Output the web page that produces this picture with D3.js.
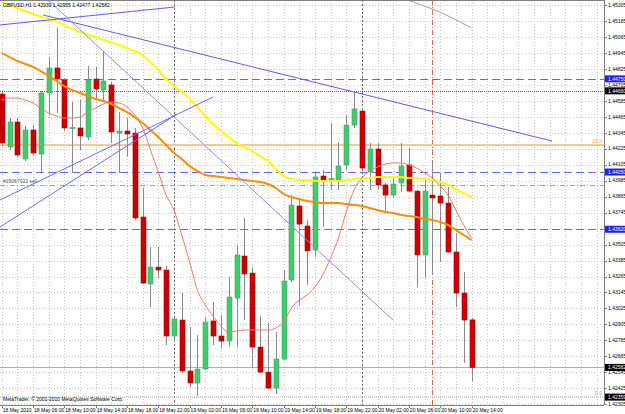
<!DOCTYPE html>
<html>
<head>
<meta charset="utf-8">
<script src="https://cdn.jsdelivr.net/npm/d3@7"></script>
<style>
  body { margin: 0; background: #fff; }
  svg { display: block; }
  text { font-family: "Liberation Sans", Arial, sans-serif; }
</style>
</head>
<body>
<div id="chart"></div>
<script>
// GBPUSD H1, bar 0 = 18 May 2010 02:00
const opens = [1.44636,1.44238,1.44426,1.44148,1.44366,1.44186,1.44644,1.44832,1.44741,1.44381,
  1.44381,1.44313,1.44749,1.44666,1.44704,1.44343,1.44358,1.44343,1.43712,1.43209,
  1.43336,1.43314,1.42818,1.42938,1.42555,1.42465,1.42570,1.42931,1.42818,1.42780,
  1.43103,1.43419,1.43291,1.42735,1.42547,1.42427,1.42645,1.43239,1.43795,1.43644,
  1.43464,1.44020,1.43998,1.43990,1.44103,1.44403,1.44508,1.44050,1.44223,1.43953,
  1.43877,1.43968,1.44103,1.43907,1.43427,1.43877,1.43870,1.43817,1.43449,1.43141,
  1.42939];
const highs = [1.44651,1.44456,1.44456,1.44396,1.44403,1.44659,1.44914,1.45132,1.44757,1.44576,
  1.44591,1.44847,1.44839,1.44952,1.44726,1.44501,1.44456,1.44381,1.43930,1.43487,
  1.43487,1.43344,1.42953,1.43141,1.42886,1.42825,1.42961,1.43073,1.42976,1.43261,
  1.43502,1.43705,1.43329,1.42968,1.42916,1.42848,1.43314,1.43877,1.43855,1.43689,
  1.44043,1.44065,1.44418,1.44276,1.44478,1.44651,1.44531,1.44268,1.44268,1.43968,
  1.44013,1.44268,1.44231,1.43915,1.43990,1.44125,1.44043,1.43938,1.43592,1.43299,
  1.42955];
const lows = [1.44246,1.44216,1.44163,1.44133,1.44178,1.44050,1.44478,1.44493,1.44358,1.44043,
  1.44216,1.44291,1.44591,1.44591,1.44268,1.44043,1.44163,1.43689,1.43209,1.43036,
  1.43254,1.42750,1.42773,1.42540,1.42435,1.42367,1.42562,1.42750,1.42728,1.42735,
  1.42735,1.42938,1.42577,1.42540,1.42420,1.42382,1.42638,1.43224,1.43051,1.43201,
  1.43412,1.43637,1.43915,1.43915,1.44065,1.44381,1.44058,1.43915,1.43915,1.43742,
  1.43862,1.43900,1.43900,1.43186,1.43254,1.43276,1.43374,1.43442,1.43036,1.42615,
  1.42477];
const closes = [1.44268,1.44426,1.44178,1.44366,1.44193,1.44644,1.44832,1.44749,1.44381,1.44384,
  1.44321,1.44741,1.44674,1.44734,1.44351,1.44358,1.44336,1.43705,1.43216,1.43336,
  1.43314,1.42818,1.42946,1.42555,1.42465,1.42570,1.42923,1.42818,1.42780,1.43111,
  1.43427,1.43284,1.42735,1.42547,1.42427,1.42645,1.43231,1.43802,1.43659,1.43457,
  1.44013,1.43983,1.44001,1.44095,1.44403,1.44524,1.44080,1.44223,1.43953,1.43877,
  1.43960,1.44095,1.43907,1.43427,1.43907,1.43855,1.43817,1.43449,1.43141,1.42938,
  1.42582];

// moving averages (one value per bar)
const maFast = [1.44591,1.44606,1.44606,1.44591,1.44569,1.44531,1.44493,1.44471,1.44456,1.44456,
  1.44463,1.44501,1.44531,1.44561,1.44576,1.44569,1.44539,1.44478,1.44381,1.44216,
  1.44050,1.43877,1.43765,1.43577,1.43374,1.43163,1.43051,1.42968,1.42893,1.42848,
  1.42855,1.42863,1.42863,1.42863,1.42863,1.42878,1.42923,1.43028,1.43088,1.43126,
  1.43186,1.43276,1.43404,1.43554,1.43750,1.43915,1.44005,1.44058,1.44088,1.44110,
  1.44118,1.44118,1.44103,1.44080,1.44043,1.44005,1.43945,1.43877,1.43765,1.43652,
  1.43554];
const maMid = [1.44944,1.44914,1.44884,1.44862,1.44839,1.44809,1.44772,1.44734,1.44696,1.44666,
  1.44644,1.44621,1.44599,1.44584,1.44561,1.44531,1.44501,1.44463,1.44418,1.44366,
  1.44313,1.44253,1.44193,1.44148,1.44095,1.44058,1.44028,1.44020,1.44013,1.44005,
  1.43998,1.43990,1.43983,1.43975,1.43960,1.43930,1.43885,1.43862,1.43847,1.43832,
  1.43825,1.43817,1.43817,1.43817,1.43810,1.43802,1.43795,1.43780,1.43765,1.43750,
  1.43742,1.43727,1.43720,1.43712,1.43697,1.43689,1.43674,1.43652,1.43614,1.43577,
  1.43539];
const maSlow = [1.45324,1.45305,1.45282,1.45260,1.45237,1.45219,1.45200,1.45181,1.45155,1.45125,
  1.45102,1.45083,1.45065,1.45042,1.45023,1.45004,1.44982,1.44959,1.44929,1.44877,
  1.44817,1.44749,1.44696,1.44651,1.44599,1.44539,1.44471,1.44411,1.44358,1.44313,
  1.44268,1.44238,1.44208,1.44170,1.44133,1.44073,1.44020,1.43998,1.43990,1.43990,
  1.43983,1.43983,1.43983,1.43983,1.43990,1.43998,1.44005,1.44005,1.44013,1.44013,
  1.44013,1.44013,1.44005,1.44005,1.43998,1.43990,1.43975,1.43953,1.43922,1.43892,
  1.43862];
const grayIdx = [51.8, 54.7, 57.3, 60];
const grayVals = [1.45343, 1.45282, 1.45215, 1.45132];

// trend lines: start / end as (bar index, price)
const lineStartIdx = [-0.22, 5.27, 5.91, -0.22, -0.22];
const lineStartPrice = [1.45155, 1.45230, 1.45343, 1.43840, 1.43637];
const lineEndIdx = [22.13, 70.28, 49.97, 27.0, 22.39];
const lineEndPrice = [1.45290, 1.44283, 1.42938, 1.44614, 1.44486];
const lineColors = ['#5a5aff', '#5a5aff', '#8c8cff', '#6a6aff', '#6a6aff'];

// horizontal levels
const blueLevels = [1.44750, 1.44050, 1.43620];
const dotLevel = 1.44660;
const fibLevels = [1.42359, 1.44253];
const fibLabels = ['0.0', '23.6'];
const orderLevel = 1.43953;
const orderLabel = '#15067022 sell';
const separatorIdx = [22, 46];
const vLineIdx = 55;

// price ticks on the right scale
const priceTicks = d3.range(0, 26).map(k => +(1.45305 - k * 0.0012).toFixed(5));

const width = 625, height = 414;
const plotRight = 604, plotBottom = 405;

const x = d3.scaleLinear().domain([0, 60]).range([1.7, 471.5]);
const y = d3.scaleLinear().domain([1.42305, 1.45305]).range([404.3, 5]);
const fmt = d => d.toFixed(5);

const svg = d3.select('#chart').append('svg')
  .attr('width', width).attr('height', height);

svg.append('defs').append('clipPath').attr('id', 'plot')
  .append('rect').attr('x', 0).attr('y', 0).attr('width', plotRight).attr('height', plotBottom);

const g = svg.append('g').attr('clip-path', 'url(#plot)');

// grid
const gridX = d3.range(0, 78, 2);
g.selectAll('.gx').data(gridX).enter().append('line')
  .attr('x1', d => Math.round(x(d)) + 0.5).attr('x2', d => Math.round(x(d)) + 0.5)
  .attr('y1', 0).attr('y2', plotBottom)
  .attr('stroke', '#c8c8c8').attr('stroke-dasharray', '1,2');
g.selectAll('.gy').data(priceTicks).enter().append('line')
  .attr('x1', 0).attr('x2', plotRight)
  .attr('y1', d => Math.round(y(d)) + 0.5).attr('y2', d => Math.round(y(d)) + 0.5)
  .attr('stroke', '#c8c8c8').attr('stroke-dasharray', '1,2');

// period separators
g.selectAll('.sep').data(separatorIdx).enter().append('line')
  .attr('x1', d => Math.round(x(d)) + 0.5).attr('x2', d => Math.round(x(d)) + 0.5)
  .attr('y1', 0).attr('y2', plotBottom)
  .attr('stroke', '#707070').attr('stroke-dasharray', '2,2');

// vertical dash-dot line
g.append('line')
  .attr('x1', Math.round(x(vLineIdx)) + 0.5).attr('x2', Math.round(x(vLineIdx)) + 0.5)
  .attr('y1', 0).attr('y2', plotBottom)
  .attr('stroke', '#e8604c').attr('stroke-dasharray', '5,2,1,2');

// fibo levels
g.selectAll('.fib').data(fibLevels).enter().append('line')
  .attr('x1', 0).attr('x2', plotRight)
  .attr('y1', d => y(d)).attr('y2', d => y(d))
  .attr('stroke', (d, i) => i === 1 ? '#ffc88a' : '#a0a0a0')
  .attr('stroke-width', (d, i) => i === 1 ? 2 : 1)
  .attr('stroke-dasharray', (d, i) => i === 1 ? null : '1,1');
g.selectAll('.fibt').data(fibLevels).enter().append('text')
  .attr('x', plotRight - 2).attr('y', d => y(d) - 2)
  .attr('text-anchor', 'end').attr('font-size', 5)
  .attr('fill', (d, i) => i === 1 ? '#f0a860' : '#a0a0a0')
  .text((d, i) => fibLabels[i]);

// order line
g.append('line')
  .attr('x1', 0).attr('x2', plotRight)
  .attr('y1', Math.round(y(orderLevel)) + 0.5).attr('y2', Math.round(y(orderLevel)) + 0.5)
  .attr('stroke', '#f08a6c').attr('stroke-dasharray', '5,2,1,2');
g.append('text')
  .attr('x', 3).attr('y', y(orderLevel) - 2)
  .attr('font-size', 5).attr('fill', '#555')
  .text(orderLabel);

// blue dashed levels
g.selectAll('.bl').data(blueLevels).enter().append('line')
  .attr('x1', 0).attr('x2', plotRight)
  .attr('y1', d => Math.round(y(d)) + 0.5).attr('y2', d => Math.round(y(d)) + 0.5)
  .attr('stroke', '#6464ff').attr('stroke-dasharray', '8,4');

// dotted level
g.append('line')
  .attr('x1', 0).attr('x2', plotRight)
  .attr('y1', Math.round(y(dotLevel)) + 0.5).attr('y2', Math.round(y(dotLevel)) + 0.5)
  .attr('stroke', '#606060').attr('stroke-dasharray', '1,1');

// bid line
const last = closes.length - 1;
g.append('line')
  .attr('x1', 0).attr('x2', plotRight)
  .attr('y1', Math.round(y(closes[last])) + 0.5).attr('y2', Math.round(y(closes[last])) + 0.5)
  .attr('stroke', '#b0b0b0');

// candles
const idx = d3.range(opens.length);
g.selectAll('.wick').data(idx).enter().append('line')
  .attr('x1', i => Math.round(x(i)) + 0.5).attr('x2', i => Math.round(x(i)) + 0.5)
  .attr('y1', i => y(highs[i])).attr('y2', i => y(lows[i]))
  .attr('stroke', '#8a8a8a');
g.selectAll('.body').data(idx).enter().append('rect')
  .attr('x', i => Math.round(x(i)) - 2)
  .attr('y', i => y(Math.max(opens[i], closes[i])))
  .attr('width', 5)
  .attr('height', i => Math.max(1, Math.abs(y(opens[i]) - y(closes[i]))))
  .attr('fill', i => closes[i] >= opens[i] ? '#3dcc6e' : '#cc0000')
  .attr('stroke', i => closes[i] >= opens[i] ? '#5a9a6a' : '#a00000')
  .attr('stroke-width', 0.6);

// moving averages
const maLine = d3.line().x((d, i) => x(i)).y(d => y(d)).curve(d3.curveMonotoneX);
g.append('path').attr('d', maLine(maSlow)).attr('fill', 'none')
  .attr('stroke', '#ffff00').attr('stroke-width', 2);
g.append('path').attr('d', maLine(maMid)).attr('fill', 'none')
  .attr('stroke', '#ff8c00').attr('stroke-width', 2);
g.append('path').attr('d', maLine(maFast)).attr('fill', 'none')
  .attr('stroke', '#fa7464').attr('stroke-width', 1);
g.append('path')
  .attr('d', d3.line().x((d, i) => x(grayIdx[i])).y(d => y(d)).curve(d3.curveMonotoneX)(grayVals))
  .attr('fill', 'none').attr('stroke', '#a0a0a0');

// trend lines
g.selectAll('.trend').data(lineStartIdx).enter().append('line')
  .attr('x1', (d, i) => x(lineStartIdx[i])).attr('y1', (d, i) => y(lineStartPrice[i]))
  .attr('x2', (d, i) => x(lineEndIdx[i])).attr('y2', (d, i) => y(lineEndPrice[i]))
  .attr('stroke', (d, i) => lineColors[i]);

// header and copyright
g.append('text').attr('x', 3).attr('y', 7).attr('font-size', 5).attr('fill', '#000')
  .text(`GBPUSD,H1  ${fmt(opens[last])} ${fmt(highs[last])} ${fmt(lows[last])} ${fmt(closes[last])}`);
g.append('text').attr('x', 3).attr('y', 401).attr('font-size', 5).attr('fill', '#000')
  .text('MetaTrader, \u00a9 2001-2010 MetaQuotes Software Corp.');

// frame
svg.append('line').attr('x1', 0).attr('x2', plotRight).attr('y1', 0.5).attr('y2', 0.5).attr('stroke', '#808080');
svg.append('line').attr('x1', plotRight + 0.5).attr('x2', plotRight + 0.5).attr('y1', 0).attr('y2', plotBottom).attr('stroke', '#808080');
svg.append('line').attr('x1', 0).attr('x2', plotRight).attr('y1', plotBottom + 0.5).attr('y2', plotBottom + 0.5).attr('stroke', '#808080');

// price scale
const axisY = svg.append('g');
axisY.selectAll('line').data(priceTicks).enter().append('line')
  .attr('x1', plotRight).attr('x2', plotRight + 3)
  .attr('y1', d => Math.round(y(d)) + 0.5).attr('y2', d => Math.round(y(d)) + 0.5)
  .attr('stroke', '#808080');
axisY.selectAll('text').data(priceTicks).enter().append('text')
  .attr('x', plotRight + 4).attr('y', d => y(d)).attr('dy', '0.35em')
  .attr('font-size', 5).attr('fill', '#000').text(fmt);

// price boxes
const boxes = blueLevels.map(v => ({ v, fill: '#2020ff' }))
  .concat([dotLevel, closes[last], fibLevels[0]].map(v => ({ v, fill: '#000' })));
const box = svg.selectAll('.box').data(boxes).enter().append('g');
box.append('rect')
  .attr('x', plotRight + 1).attr('y', d => y(d.v) - 3.5)
  .attr('width', 20).attr('height', 7).attr('fill', d => d.fill);
box.append('text')
  .attr('x', plotRight + 4).attr('y', d => y(d.v)).attr('dy', '0.35em')
  .attr('font-size', 5).attr('fill', '#fff').text(d => fmt(d.v));

// time scale
const t0 = Date.UTC(2010, 4, 18, 2);
const timeFmt = d3.utcFormat('%-d %b %H:%M');
const timeTicks = d3.range(0, 61, 4);
const axisX = svg.append('g');
axisX.selectAll('line').data(timeTicks).enter().append('line')
  .attr('x1', i => Math.round(x(i)) + 0.5).attr('x2', i => Math.round(x(i)) + 0.5)
  .attr('y1', plotBottom).attr('y2', plotBottom + 3)
  .attr('stroke', '#808080');
axisX.selectAll('text').data(timeTicks).enter().append('text')
  .attr('x', i => Math.max(2, x(i) + 1)).attr('y', 412)
  .attr('font-size', 5).attr('fill', '#000')
  .text(i => i === 0 ? '18 May 2010' : timeFmt(new Date(t0 + i * 3600e3)));
</script>
</body>
</html>
